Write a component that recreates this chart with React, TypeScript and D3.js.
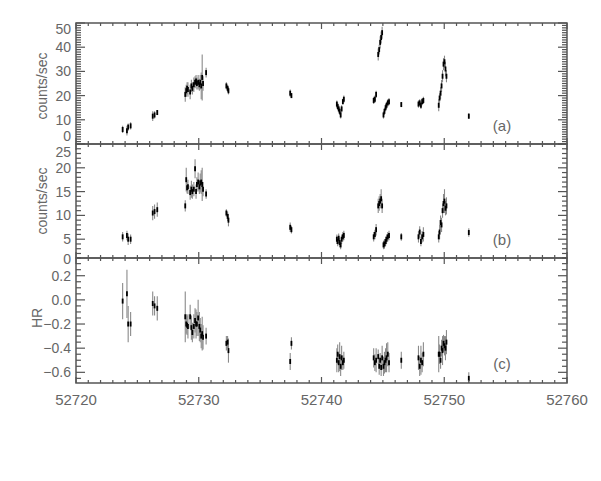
import React from "react";
import * as d3 from "d3";

// Observation times (MJD)
const obsTime = [
  52723.8,
  52724.15, 52724.25, 52724.45,
  52726.25, 52726.4, 52726.62,
  52728.9, 52728.98, 52729.05, 52729.12, 52729.3, 52729.4, 52729.48, 52729.6, 52729.7, 52729.78, 52729.85, 52729.95, 52730.05, 52730.12, 52730.2, 52730.28, 52730.35, 52730.6,
  52732.25, 52732.35, 52732.42,
  52737.45, 52737.55,
  52741.25, 52741.32, 52741.4, 52741.48, 52741.56, 52741.64, 52741.74, 52741.82,
  52744.25, 52744.35, 52744.45, 52744.62, 52744.7, 52744.78, 52744.86, 52744.94, 52745.05, 52745.13, 52745.22, 52745.3, 52745.4, 52745.5,
  52746.5,
  52747.9, 52748.0, 52748.1, 52748.2, 52748.3,
  52749.55, 52749.62, 52749.7, 52749.78, 52749.86, 52749.94, 52750.02, 52750.1, 52750.18,
  52752.0,
];

// Panel (a) count rate
const rateA = [
  6.0,
  5.5, 7.0, 7.5,
  11.5, 12.0, 13.0,
  20.5, 22.0, 23.0, 22.5, 21.5, 24.0, 23.0, 24.5, 25.5, 26.0, 25.0, 25.5, 24.5, 25.5, 24.0, 27.5, 25.0, 29.5,
  24.0, 23.0, 22.0,
  21.0, 20.0,
  16.5, 15.5, 14.5, 13.5, 12.0, 14.5, 17.5, 18.5,
  18.0, 18.5, 20.5, 37.0, 39.0, 42.0, 44.0, 46.0, 12.0, 13.5, 15.0, 16.0, 17.0, 17.5,
  16.3,
  16.5, 17.0, 16.0, 17.5, 18.0,
  16.0, 19.0, 21.0, 24.0, 28.0, 33.0, 34.0, 31.0, 28.0,
  11.5,
];
const errA = [
  1.5,
  2.0, 1.5, 1.5,
  2.0, 1.5, 1.0,
  3, 2.5, 2.5, 3, 3, 2.5, 2.5, 3, 2.5, 2.5, 2.5, 3, 2.5, 3, 5.5, 9.5, 3, 2,
  1.5, 1.5, 1.5,
  1.5, 1.0,
  1.5, 1.5, 1.5, 1.5, 1.5, 1.5, 1.2, 1.5,
  1.5, 1.5, 1.5, 2.5, 2, 2.5, 2.5, 2.5, 1.5, 1.5, 1.5, 1.5, 1.5, 1.5,
  0.7,
  1.5, 1.5, 1.5, 1.5, 1.5,
  2.5, 2, 2.5, 2.5, 2.5, 2.5, 2.5, 3, 2.5,
  1.2,
];

// Panel (b) count rate
const rateB = [
  5.5,
  5.8, 5.0, 5.0,
  10.5, 10.8, 11.2,
  12.0, 17.5, 15.8, 16.0, 14.8, 15.5, 15.0, 15.5, 19.8, 15.0, 16.5, 17.0, 16.0, 16.8, 17.0, 16.5, 15.5, 14.5,
  10.5, 9.8, 9.0,
  7.5, 7.0,
  5.0, 4.5, 5.2, 4.3, 3.8, 5.0, 5.5, 5.8,
  5.5, 6.0, 7.0, 12.0, 12.5, 13.0, 13.5, 12.0, 3.8, 4.0, 4.5, 5.0, 5.5, 5.8,
  5.5,
  5.5, 6.5, 4.5, 5.5, 6.0,
  5.5, 6.5, 8.5, 8.0, 11.0, 12.5, 13.0, 11.5, 12.0,
  6.4,
];
const errB = [
  1,
  1, 1.2, 1,
  1.5, 1.5, 1.5,
  1.2, 2.5, 1.2, 1.5, 1.5, 1.8, 1.5, 1.5, 2, 1.5, 1.5, 2, 1.5, 2, 2.5, 3.5, 1.5, 1,
  0.8, 1, 1.3,
  1, 0.8,
  1, 1, 1, 1, 0.9, 1, 1, 1,
  1, 1, 1.2, 1.5, 1.5, 1.5, 2, 1.5, 0.9, 1, 1, 1, 1, 1,
  0.8,
  1.2, 1.2, 1, 1.2, 1.5,
  1.2, 1.5, 1.5, 1.5, 1.5, 2, 2.5, 1.5, 1.8,
  0.9,
];

// Panel (c) hardness ratio
const hardness = [
  -0.01,
  0.05, -0.2, -0.2,
  -0.03, -0.05, -0.07,
  -0.14, -0.2, -0.21, -0.22, -0.14, -0.23, -0.27, -0.22, -0.17, -0.2, -0.2, -0.15, -0.22, -0.25, -0.3, -0.28, -0.31, -0.3,
  -0.36, -0.35, -0.42,
  -0.51, -0.36,
  -0.5, -0.45, -0.52, -0.47, -0.55, -0.48, -0.52, -0.5,
  -0.48, -0.52, -0.5, -0.47, -0.55, -0.5, -0.56, -0.48, -0.55, -0.52, -0.5, -0.48, -0.45, -0.52,
  -0.5,
  -0.48, -0.55, -0.5, -0.52, -0.45,
  -0.45, -0.45, -0.5, -0.4, -0.42, -0.36, -0.38, -0.4, -0.35,
  -0.65,
];
const errHR = [
  0.15,
  0.2, 0.15, 0.1,
  0.1, 0.08, 0.1,
  0.21, 0.08, 0.08, 0.1, 0.1, 0.1, 0.08, 0.1, 0.1, 0.12, 0.1, 0.15, 0.12, 0.1, 0.1, 0.14, 0.1, 0.07,
  0.06, 0.05, 0.1,
  0.07, 0.05,
  0.1, 0.08, 0.08, 0.12, 0.08, 0.1, 0.06, 0.07,
  0.08, 0.07, 0.1, 0.06, 0.07, 0.06, 0.07, 0.1, 0.08, 0.09, 0.1, 0.12, 0.1, 0.08,
  0.07,
  0.1, 0.08, 0.12, 0.08, 0.1,
  0.15, 0.08, 0.07, 0.07, 0.12, 0.07, 0.08, 0.1, 0.1,
  0.05,
];

const xDomain = [52720, 52760];
const xTickValues = [52720, 52730, 52740, 52750, 52760];
const yTicksA = [0, 10, 20, 30, 40, 50];
const yTicksB = [0, 5, 10, 15, 20, 25];
const yTicksC = [-0.6, -0.4, -0.2, 0.0, 0.2];
const panelTags = ["(a)", "(b)", "(c)"];
const yTitles = ["counts/sec", "counts/sec", "HR"];

const W = 601;
const H = 481;
const X0 = 76;
const X1 = 567;
const AXIS = "#555";
const TEXT = "#666";
const FONT = "'Liberation Sans', Arial, sans-serif";

type Panel = {
  key: string;
  top: number;
  bottom: number;
  y: d3.ScaleLinear<number, number>;
  vals: number[];
  errs: number[];
  ticks: number[];
  minorStep: number;
  fmt: (v: number) => string;
  labelMin: number;
  labelMax: number;
  tag: string;
  title: string;
  titleX: number;
  titleY: number;
  tagY: number;
};

export default function App() {
  const x = d3.scaleLinear().domain(xDomain).range([X0, X1]);

  const panels: Panel[] = [
    {
      key: "a", top: 23, bottom: 144,
      y: d3.scaleLinear().domain([0, 50]).range([144, 23]),
      vals: rateA, errs: errA, ticks: yTicksA, minorStep: 1,
      fmt: d3.format("d"), labelMin: 28.5, labelMax: 135.5,
      tag: panelTags[0], title: yTitles[0], titleX: 42, titleY: 86, tagY: 126,
    },
    {
      key: "b", top: 144, bottom: 258,
      y: d3.scaleLinear().domain([0, 25]).range([263, 144]),
      vals: rateB, errs: errB, ticks: yTicksB, minorStep: 1,
      fmt: d3.format("d"), labelMin: 152, labelMax: 258.5,
      tag: panelTags[1], title: yTitles[1], titleX: 42, titleY: 201, tagY: 240,
    },
    {
      key: "c", top: 258, bottom: 383,
      y: d3.scaleLinear().domain([-0.69, 0.355]).range([383.2, 257]),
      vals: hardness, errs: errHR, ticks: yTicksC, minorStep: 0.05,
      fmt: d3.format(".1f"), labelMin: 262, labelMax: 380,
      tag: panelTags[2], title: yTitles[2], titleX: 37, titleY: 318, tagY: 364,
    },
  ];

  const xMinor = d3.range(xDomain[0], xDomain[1] + 0.001, 1);

  return (
    <svg width={W} height={H} style={{ display: "block", position: "absolute", left: 0, top: 0, background: "#fff" }}>
      <defs>
        {panels.map((p) => (
          <clipPath id={`clip-${p.key}`} key={p.key}>
            <rect x={X0} y={p.top} width={X1 - X0} height={p.bottom - p.top} />
          </clipPath>
        ))}
      </defs>
      {panels.map((p) => {
        const [d0, d1] = p.y.domain();
        const lo = Math.min(d0, d1);
        const hi = Math.max(d0, d1);
        const minor = d3
          .range(Math.ceil(lo / p.minorStep - 1e-6) * p.minorStep, hi + 1e-9, p.minorStep)
          .filter((v) => {
            const py = p.y(v);
            return py >= p.top - 0.5 && py <= p.bottom + 0.5;
          });
        return (
          <g key={p.key}>
            {/* data */}
            <g clipPath={`url(#clip-${p.key})`}>
              {obsTime.map((t, i) => (
                <line
                  key={`e${i}`}
                  x1={x(t)}
                  x2={x(t)}
                  y1={p.y(p.vals[i] - p.errs[i])}
                  y2={p.y(p.vals[i] + p.errs[i])}
                  stroke="#8a8a8a"
                  strokeWidth={1.1}
                />
              ))}
              {obsTime.map((t, i) => (
                <line
                  key={`m${i}`}
                  x1={x(t)}
                  x2={x(t)}
                  y1={p.y(p.vals[i]) - 2.5}
                  y2={p.y(p.vals[i]) + 2.5}
                  stroke="#000"
                  strokeWidth={1.8}
                />
              ))}
            </g>
            {/* frame */}
            <rect x={X0} y={p.top} width={X1 - X0} height={p.bottom - p.top} fill="none" stroke={AXIS} strokeWidth={1.5} />
            {/* x ticks top & bottom */}
            {xMinor.map((v) => {
              const major = xTickValues.includes(v);
              const len = major ? 6 : 3;
              return (
                <g key={`xt${v}`}>
                  <line x1={x(v)} x2={x(v)} y1={p.bottom} y2={p.bottom - len} stroke={AXIS} strokeWidth={1.2} />
                  <line x1={x(v)} x2={x(v)} y1={p.top} y2={p.top + len} stroke={AXIS} strokeWidth={1.2} />
                </g>
              );
            })}
            {/* y ticks left & right */}
            {minor.map((v, i) => {
              const major = p.ticks.some((t) => Math.abs(t - v) < 1e-6);
              const len = major ? 9 : 5;
              const py = p.y(v);
              return (
                <g key={`yt${i}`}>
                  <line x1={X0} x2={X0 + len} y1={py} y2={py} stroke={AXIS} strokeWidth={1.2} />
                  <line x1={X1} x2={X1 - len} y1={py} y2={py} stroke={AXIS} strokeWidth={1.2} />
                </g>
              );
            })}
            {/* y tick labels */}
            {p.ticks.map((v) => {
              const py = Math.max(p.labelMin, Math.min(p.labelMax, p.y(v)));
              return (
                <text
                  key={`yl${v}`}
                  x={71}
                  y={py}
                  dy="0.36em"
                  textAnchor="end"
                  fontFamily={FONT}
                  fontSize={14}
                  fill={TEXT}
                >
                  {p.fmt(v)}
                </text>
              );
            })}
            {/* y title */}
            <text
              transform={`translate(${p.titleX},${p.titleY}) rotate(-90)`}
              textAnchor="middle"
              dy="0.36em"
              fontFamily={FONT}
              fontSize={14}
              fill={TEXT}
            >
              {p.title}
            </text>
            {/* panel tag */}
            <text x={502} y={p.tagY} dy="0.36em" textAnchor="middle" fontFamily={FONT} fontSize={15} fill={TEXT}>
              {p.tag}
            </text>
          </g>
        );
      })}
      {/* x tick labels */}
      {xTickValues.map((v) => (
        <text key={`xl${v}`} x={x(v)} y={400} dy="0.36em" textAnchor="middle" fontFamily={FONT} fontSize={15} fill={TEXT}>
          {String(v)}
        </text>
      ))}
    </svg>
  );
}
